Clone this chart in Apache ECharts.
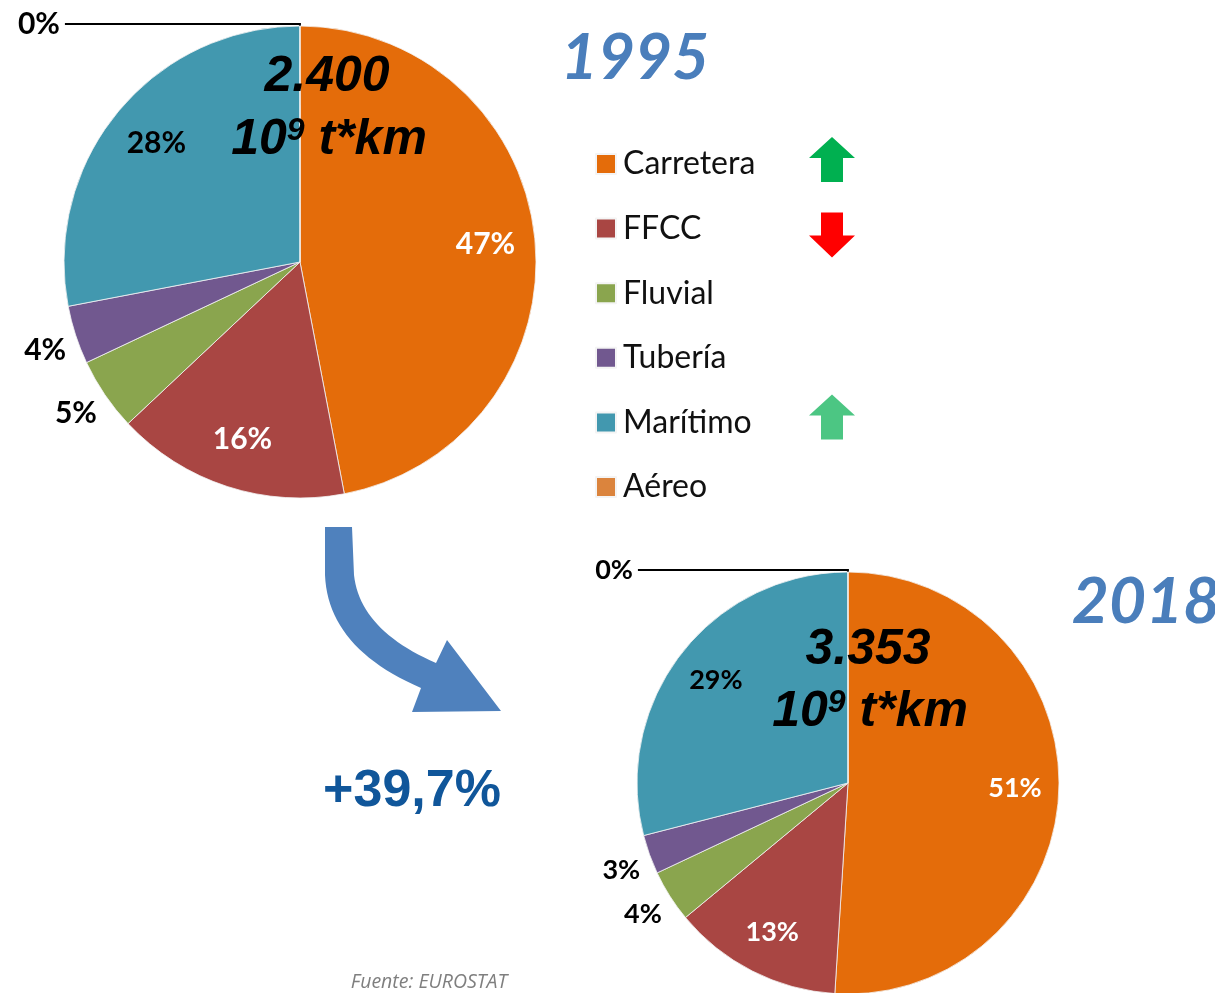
<!DOCTYPE html>
<html><head><meta charset="utf-8">
<script src="https://cdn.jsdelivr.net/npm/echarts@6/dist/echarts.min.js"></script>
<style>html,body{margin:0;padding:0;background:#fff}#c{width:1215px;height:993px}</style>
</head><body><div id="c"></div>
<script>
// ---- data ----
const categories = ['Carretera', 'FFCC', 'Fluvial', 'Tubería', 'Marítimo', 'Aéreo'];
const share1995 = [47, 16, 5, 4, 28, 0];
const share2018 = [51, 13, 4, 3, 29, 0];
const years = ['1995', '2018'];
const totals = ['2.400', '3.353'];
const unitBase = '10', unitExp = '9', unitRest = ' t*km';
const growth = '+39,7%';
const trend = ['up', 'down', null, null, 'up', null];
const source = 'Fuente: EUROSTAT';

// ---- style / layout ----
const colors = ['#E46C0A', '#A94643', '#8AA54E', '#71588F', '#4298AF', '#DB843D'];
const trendColors = ['#00B050', '#FF0000', null, null, '#4CC683', null];
const pies = [
  { cx: 300, cy: 262, r: 236, font: 30, values: share1995, yearX: 635, yearY: 58, totX: 327, totY: 77, unitY: 140 },
  { cx: 848, cy: 783, r: 211, font: 27, values: share2018, yearX: 1146, yearY: 602, totX: 868, totY: 650, unitY: 712 }
];
const insideColor = { 0: '#fff', 1: '#fff', 4: '#000' };
const insideK = 1.54;
const outsideShift = [7, 12];
const legendTop = 148, legendRow = 64.4;

const chart = echarts.init(document.getElementById('c'));

const series = pies.map((p, si) => ({
  type: 'pie',
  center: [p.cx, p.cy],
  radius: p.r,
  startAngle: 90.02,
  clockwise: true,
  avoidLabelOverlap: false,
  silent: true,
  percentPrecision: 0,
  itemStyle: { borderColor: '#f4f4f4', borderWidth: 0.8 },
  label: {
    show: true, formatter: '{d}%', fontFamily: 'Lato', fontWeight: 'bold',
    fontSize: p.font, color: '#000', distanceToLabelLine: 5
  },
  labelLine: { show: false, length: 12, length2: 0 },
  labelLayout: function (params) {
    const v = p.values[params.dataIndex];
    if (params.dataIndex in insideColor) {
      const lr = params.labelRect;
      const lx = lr.x + lr.width / 2, ly = lr.y + lr.height / 2;
      return { dx: (lx - p.cx) * (insideK - 1), dy: (ly - p.cy) * (insideK - 1) };
    }
    if (v > 0) return { dx: outsideShift[0], dy: outsideShift[1] };
    return {};
  },
  data: categories.map((name, i) => {
    const item = { name: name, value: p.values[i] };
    if (i in insideColor) {
      item.label = { position: 'inside', color: insideColor[i] };
    } else if (p.values[i] === 0) {
      item.label = { position: 'outside' };
      item.labelLine = { show: true, length: 2, length2: p.r - 1, lineStyle: { color: '#000', width: 2 } };
    } else {
      item.label = { position: 'outside' };
    }
    return item;
  })
}));

const graphic = [];
pies.forEach((p, si) => {
  graphic.push({
    type: 'text', z: 10, silent: true,
    style: { x: p.yearX, y: p.yearY, text: years[si], textAlign: 'center', textVerticalAlign: 'middle',
      fontFamily: 'Lato', fontStyle: 'italic', fontWeight: 'bold', fontSize: 64, fill: '#4A7EBB' }
  });
  graphic.push({
    type: 'text', z: 10, silent: true,
    style: { x: p.totX, y: p.totY, text: totals[si], textAlign: 'center', textVerticalAlign: 'middle',
      fontFamily: 'Liberation Sans', fontStyle: 'italic', fontWeight: 'bold', fontSize: 50, fill: '#000' }
  });
  graphic.push({
    type: 'text', z: 10, silent: true,
    style: { x: p.totX + 2, y: p.unitY, textAlign: 'center', textVerticalAlign: 'middle',
      text: '{a|' + unitBase + '}{s|' + unitExp + '}{a|' + unitRest + '}',
      rich: {
        a: { fontFamily: 'Liberation Sans', fontStyle: 'italic', fontWeight: 'bold', fontSize: 50, fill: '#000' },
        s: { fontFamily: 'Liberation Sans', fontStyle: 'italic', fontWeight: 'bold', fontSize: 32, fill: '#000', verticalAlign: 'top' }
      } }
  });
});

// trend arrows next to legend rows
const upPts = [[0, -26], [23, -5], [11, -5], [11, 19], [-11, 19], [-11, -5], [-23, -5]];
const downPts = [[-11, -15], [11, -15], [11, 8], [23, 8], [0, 30], [-23, 8], [-11, 8]];
trend.forEach((t, i) => {
  if (!t) return;
  const cy = 163 + i * legendRow;
  const pts = (t === 'up' ? upPts : downPts).map(q => [832 + q[0], cy + q[1]]);
  graphic.push({ type: 'polygon', silent: true, shape: { points: pts }, style: { fill: trendColors[i] } });
});

// curved growth arrow (outline built from quadratic curves)
function quad(p0, c, p1, n) {
  const out = [];
  for (let k = 0; k <= n; k++) {
    const t = k / n, u = 1 - t;
    out.push([u * u * p0[0] + 2 * u * t * c[0] + t * t * p1[0], u * u * p0[1] + 2 * u * t * c[1] + t * t * p1[1]]);
  }
  return out;
}
const arrowPts = [[325, 527]]
  .concat(quad([325, 575], [328, 648], [421, 688], 24))
  .concat([[412, 712], [501, 711], [447, 640]])
  .concat(quad([436, 663], [360, 630], [354, 575], 24))
  .concat([[352, 527]]);
graphic.push({ type: 'polygon', silent: true, shape: { points: arrowPts }, style: { fill: '#4F81BD' } });

graphic.push({
  type: 'text', silent: true,
  style: { x: 412, y: 792, text: growth, textAlign: 'center', textVerticalAlign: 'middle',
    fontFamily: 'Liberation Sans', fontWeight: 'bold', fontSize: 52, fill: '#10569A' }
});
graphic.push({
  type: 'text', silent: true,
  style: { x: 429, y: 982, text: source, textAlign: 'center', textVerticalAlign: 'middle',
    fontFamily: 'Open Sans', fontStyle: 'italic', fontSize: 19.5, fill: '#7F7F7F' }
});

chart.setOption({
  animation: false,
  backgroundColor: '#fff',
  color: colors,
  legend: {
    orient: 'vertical', left: 595, top: legendTop, padding: 0, icon: 'rect',
    itemWidth: 20, itemHeight: 20, itemGap: 32.6, selectedMode: false,
    data: categories,
    textStyle: { fontFamily: 'Lato', fontSize: 32, color: '#111', lineHeight: 30, padding: [0, 0, 0, 2] }
  },
  series: series,
  graphic: graphic
});
</script></body></html>
